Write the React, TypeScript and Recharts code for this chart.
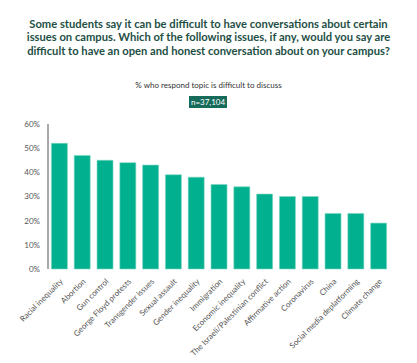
import { BarChart, Bar, XAxis, YAxis } from 'recharts'

const topics = [
  'Racial inequality', 'Abortion', 'Gun control', 'George Floyd protests', 'Transgender issues',
  'Sexual assault', 'Gender inequality', 'Immigration', 'Economic inequality',
  'The Israeli/Palestinian conflict', 'Affirmative action', 'Coronavirus', 'China',
  'Social media deplatforming', 'Climate change',
]
const difficult = [52, 47, 45, 44, 43, 39, 38, 35, 34, 31, 30, 30, 23, 23, 19]
const yTicks = [0, 10, 20, 30, 40, 50, 60]

const data = topics.map((topic, i) => ({ topic, value: difficult[i] }))

const FONT = 'Lato, "Noto Sans", sans-serif'
const GREEN = '#1d4f45'

function TopicTick({ x, y, payload }: any) {
  return (
    <text
      x={x + 4}
      y={y + 5}
      transform={`rotate(-45 ${x + 4} ${y + 5})`}
      textAnchor="end"
      fontSize={8}
      fill="#555"
      fontFamily={FONT}
    >
      {payload.value}
    </text>
  )
}

export default function App() {
  return (
    <div style={{ position: 'absolute', left: 0, top: 0, width: 417, height: 363, background: '#fff', fontFamily: FONT }}>
      <div style={{
        position: 'absolute', top: 17, left: 0, width: 417, textAlign: 'center', whiteSpace: 'nowrap',
        fontSize: 11.2, fontWeight: 700, lineHeight: '13.4px', color: GREEN,
      }}>
        Some students say it can be difficult to have conversations about certain<br />
        issues on campus. Which of the following issues, if any, would you say are<br />
        difficult to have an open and honest conversation about on your campus?
      </div>
      <div style={{ position: 'absolute', top: 80, left: 0, width: 417, textAlign: 'center', fontSize: 8, color: '#333', whiteSpace: 'nowrap' }}>
        % who respond topic is difficult to discuss
      </div>
      <div style={{
        position: 'absolute', top: 96, left: 189, width: 38, height: 12, background: '#176b5b',
        color: '#fff', fontSize: 8, lineHeight: '12px', textAlign: 'center',
      }}>
        n=37,104
      </div>
      <div style={{ position: 'absolute', top: 110, left: 0 }}>
        <BarChart
          width={417}
          height={253}
          data={data}
          margin={{ top: 14, right: 27, left: 0, bottom: 0 }}
          barCategoryGap="15%"
        >
          <XAxis
            dataKey="topic"
            interval={0}
            height={94}
            tick={<TopicTick />}
            tickLine={false}
            axisLine={false}
          />
          <YAxis
            width={48}
            domain={[0, 60]}
            ticks={yTicks}
            tickFormatter={(v: number) => `${v}%`}
            tick={{ fontSize: 8, fill: '#555', fontFamily: FONT }}
            tickLine={false}
            axisLine={{ stroke: '#555' }}
          />
          <Bar dataKey="value" fill="#00b08f" stroke="#7fd6c3" strokeWidth={0.6} isAnimationActive={false} />
        </BarChart>
      </div>
    </div>
  )
}
